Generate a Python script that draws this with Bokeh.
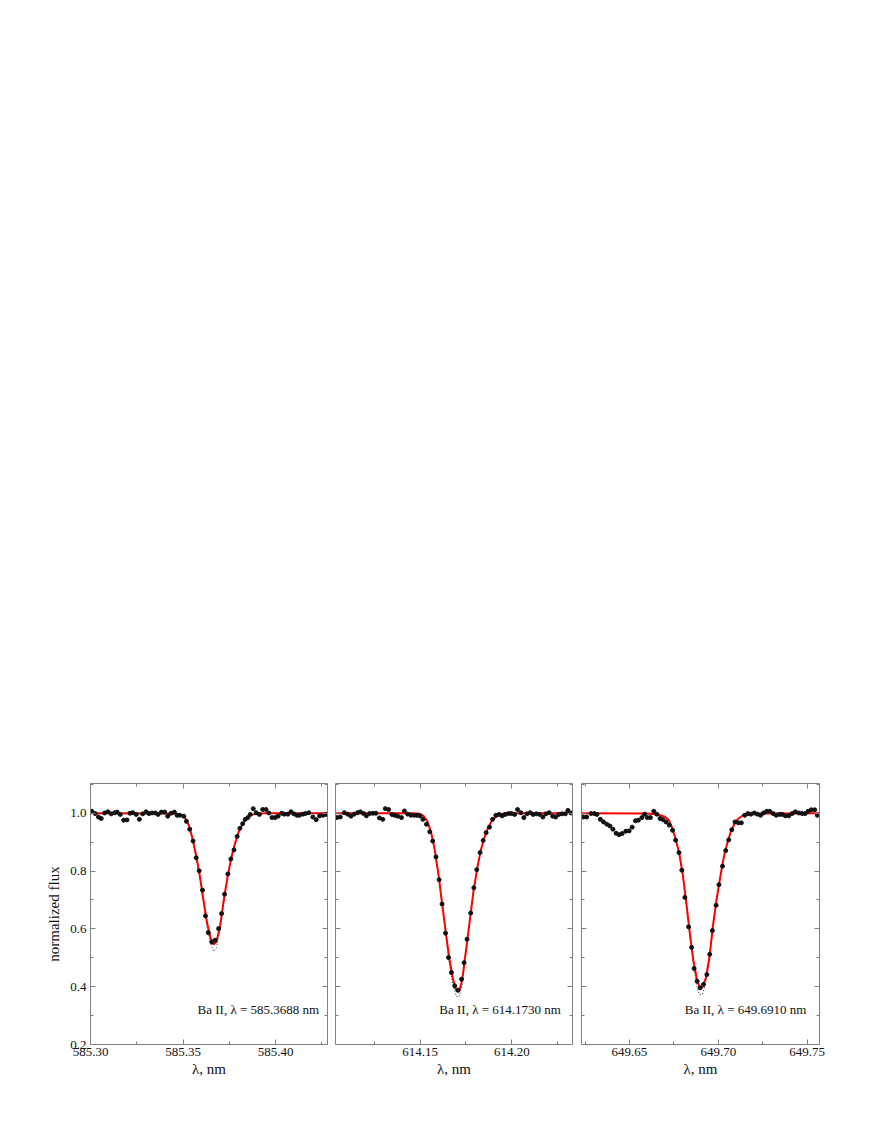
from bokeh.plotting import figure
from bokeh.layouts import row
from bokeh.models import (Range1d, FixedTicker, LinearAxis, NumeralTickFormatter,
                          CustomJSTickFormatter, Label)
from bokeh.embed import file_html
from bokeh.resources import INLINE

FONT = "Liberation Serif"
AXIS_GRAY = "#808080"

# ---------------- Data ----------------
# Panel 1: Ba II 585.3688 nm
obs1_x = [585.3007, 585.3025, 585.3043, 585.3058, 585.3076, 585.3094, 585.3112, 585.3130, 585.3144, 585.3161,
          585.3179, 585.3197, 585.3213, 585.3228, 585.3247, 585.3264, 585.3282, 585.3300, 585.3316, 585.3332,
          585.3350, 585.3365, 585.3383, 585.3401, 585.3417, 585.3435, 585.3453, 585.3468, 585.3482, 585.3504,
          585.3518, 585.3536, 585.3554, 585.3571, 585.3587, 585.3605, 585.3621, 585.3636, 585.3655, 585.3673,
          585.3692, 585.3708, 585.3724, 585.3742, 585.3758, 585.3775, 585.3792, 585.3807, 585.3822, 585.3836,
          585.3850, 585.3863, 585.3879, 585.3895, 585.3912, 585.3930, 585.3948, 585.3963, 585.3980, 585.3997,
          585.4013, 585.4033, 585.4047, 585.4066, 585.4083, 585.4098, 585.4114, 585.4128, 585.4147, 585.4161,
          585.4179, 585.4201, 585.4219, 585.4237, 585.4255, 585.4273]
obs1_y = [1.007, 0.999, 0.987, 0.982, 1.001, 1.005, 0.998, 1.002, 1.004, 0.996,
          0.976, 0.977, 1.000, 1.002, 0.996, 0.979, 0.998, 1.005, 0.999, 1.001,
          1.001, 0.996, 1.004, 1.004, 0.990, 1.000, 1.004, 0.993, 0.993, 0.990,
          0.972, 0.945, 0.904, 0.846, 0.801, 0.734, 0.645, 0.587, 0.555, 0.561,
          0.601, 0.653, 0.720, 0.790, 0.842, 0.873, 0.920, 0.948, 0.964, 0.979,
          0.985, 0.996, 1.016, 1.002, 0.996, 1.013, 1.013, 1.001, 0.985, 0.985,
          0.990, 1.000, 0.997, 0.997, 1.005, 0.998, 0.993, 0.993, 0.997, 0.999,
          1.002, 0.987, 0.978, 0.991, 0.993, 0.996]
fit1_x = [585.300, 585.346, 585.349, 585.351, 585.353, 585.355, 585.357, 585.359, 585.361, 585.363,
          585.365, 585.3665, 585.368, 585.370, 585.372, 585.374, 585.376, 585.378, 585.380, 585.382,
          585.384, 585.386, 585.389, 585.395, 585.428]
fit1_red = [1.000, 0.999, 0.995, 0.985, 0.960, 0.915, 0.855, 0.785, 0.700, 0.620,
            0.565, 0.546, 0.555, 0.610, 0.700, 0.780, 0.845, 0.895, 0.935, 0.962,
            0.980, 0.992, 0.998, 1.000, 1.000]
fit1_dot = [1.000, 0.999, 0.995, 0.984, 0.958, 0.912, 0.850, 0.778, 0.690, 0.605,
            0.545, 0.522, 0.535, 0.596, 0.692, 0.776, 0.843, 0.894, 0.934, 0.962,
            0.980, 0.992, 0.998, 1.000, 1.000]

# Panel 2: Ba II 614.1730 nm
obs2_x = [614.1047, 614.1066, 614.1088, 614.1106, 614.1124, 614.1142, 614.1160, 614.1175, 614.1193, 614.1208,
          614.1226, 614.1244, 614.1260, 614.1279, 614.1297, 614.1311, 614.1329, 614.1347, 614.1362, 614.1378,
          614.1399, 614.1415, 614.1433, 614.1451, 614.1469, 614.1484, 614.1500, 614.1516, 614.1535, 614.1553,
          614.1569, 614.1587, 614.1604, 614.1620, 614.1639, 614.1655, 614.1671, 614.1689, 614.1707, 614.1726,
          614.1740, 614.1756, 614.1776, 614.1793, 614.1809, 614.1827, 614.1844, 614.1860, 614.1878, 614.1895,
          614.1913, 614.1931, 614.1947, 614.1964, 614.1982, 614.1998, 614.2015, 614.2031, 614.2049, 614.2065,
          614.2082, 614.2100, 614.2116, 614.2133, 614.2151, 614.2169, 614.2185, 614.2203, 614.2222, 614.2238,
          614.2255, 614.2273, 614.2291, 614.2305, 614.2322]
obs2_y = [0.985, 0.987, 1.002, 0.997, 0.990, 0.997, 1.002, 1.005, 0.999, 0.991,
          0.999, 1.000, 1.000, 0.984, 0.979, 1.016, 1.013, 0.996, 0.993, 0.990,
          0.985, 1.008, 0.997, 0.993, 0.993, 0.993, 0.991, 0.979, 0.962, 0.936,
          0.904, 0.849, 0.770, 0.686, 0.585, 0.501, 0.449, 0.403, 0.388, 0.426,
          0.483, 0.564, 0.655, 0.742, 0.805, 0.864, 0.906, 0.933, 0.952, 0.979,
          0.993, 0.996, 0.991, 0.996, 0.999, 0.999, 0.996, 1.013, 1.002, 0.985,
          0.998, 1.002, 0.996, 0.998, 0.996, 0.987, 0.998, 1.002, 0.990, 0.987,
          0.996, 0.998, 0.998, 1.010, 1.001]
fit2_x = [614.104, 614.145, 614.150, 614.152, 614.154, 614.156, 614.158, 614.160, 614.162, 614.164,
          614.166, 614.168, 614.1695, 614.1705, 614.1715, 614.173, 614.175, 614.177, 614.179, 614.181,
          614.183, 614.185, 614.187, 614.189, 614.191, 614.193, 614.196, 614.233]
fit2_red = [1.000, 1.000, 0.998, 0.990, 0.972, 0.935, 0.875, 0.790, 0.690, 0.590,
            0.495, 0.425, 0.392, 0.382, 0.388, 0.425, 0.525, 0.625, 0.725, 0.805,
            0.870, 0.915, 0.950, 0.972, 0.986, 0.995, 1.000, 1.000]
fit2_dot = [1.000, 1.000, 0.998, 0.990, 0.971, 0.933, 0.872, 0.785, 0.682, 0.578,
            0.478, 0.405, 0.372, 0.363, 0.370, 0.410, 0.515, 0.620, 0.722, 0.804,
            0.870, 0.916, 0.951, 0.973, 0.987, 0.995, 1.000, 1.000]

# Panel 3: Ba II 649.6910 nm
obs3_x = [649.6240, 649.6259, 649.6284, 649.6302, 649.6317, 649.6336, 649.6354, 649.6373, 649.6390, 649.6407,
          649.6425, 649.6442, 649.6459, 649.6480, 649.6498, 649.6515, 649.6534, 649.6550, 649.6570, 649.6586,
          649.6601, 649.6618, 649.6637, 649.6654, 649.6672, 649.6689, 649.6706, 649.6724, 649.6743, 649.6760,
          649.6779, 649.6795, 649.6812, 649.6833, 649.6850, 649.6864, 649.6881, 649.6898, 649.6917, 649.6936,
          649.6952, 649.6967, 649.6988, 649.7004, 649.7024, 649.7042, 649.7059, 649.7076, 649.7094, 649.7113,
          649.7130, 649.7149, 649.7167, 649.7184, 649.7203, 649.7220, 649.7238, 649.7255, 649.7273, 649.7290,
          649.7309, 649.7326, 649.7345, 649.7361, 649.7378, 649.7397, 649.7416, 649.7434, 649.7453, 649.7472,
          649.7489, 649.7506, 649.7524, 649.7543, 649.7558]
obs3_y = [0.987, 0.987, 0.999, 0.999, 0.996, 0.979, 0.970, 0.962, 0.956, 0.945,
          0.931, 0.926, 0.930, 0.938, 0.939, 0.952, 0.974, 0.976, 0.985, 0.997,
          0.985, 0.985, 1.007, 0.997, 0.982, 0.978, 0.970, 0.959, 0.941, 0.907,
          0.864, 0.803, 0.709, 0.607, 0.536, 0.463, 0.419, 0.396, 0.408, 0.442,
          0.512, 0.594, 0.682, 0.753, 0.817, 0.871, 0.908, 0.943, 0.970, 0.967,
          0.967, 0.993, 0.999, 0.997, 1.001, 0.997, 0.993, 1.001, 1.007, 1.007,
          0.999, 0.993, 0.996, 0.996, 0.991, 0.991, 0.999, 1.005, 1.001, 0.999,
          0.999, 1.007, 1.012, 1.012, 0.993]
fit3_x = [649.623, 649.660, 649.666, 649.670, 649.672, 649.674, 649.676, 649.678, 649.680, 649.682,
          649.684, 649.686, 649.688, 649.6895, 649.691, 649.693, 649.695, 649.697, 649.699, 649.701,
          649.703, 649.705, 649.707, 649.709, 649.711, 649.714, 649.720, 649.757]
fit3_red = [1.000, 0.999, 0.996, 0.988, 0.978, 0.950, 0.912, 0.862, 0.790, 0.690,
            0.585, 0.490, 0.425, 0.398, 0.398, 0.430, 0.500, 0.610, 0.700, 0.775,
            0.845, 0.895, 0.935, 0.962, 0.980, 0.993, 0.999, 1.000]
fit3_dot = [1.000, 0.999, 0.996, 0.988, 0.977, 0.948, 0.909, 0.857, 0.782, 0.680,
            0.572, 0.472, 0.400, 0.372, 0.374, 0.412, 0.488, 0.603, 0.696, 0.773,
            0.844, 0.895, 0.935, 0.962, 0.980, 0.993, 0.999, 1.000]

# Axis ranges, ticks and labels
x_ranges = [(585.300, 585.428), (614.104, 614.233), (649.623, 649.757)]
x_major = [[585.30, 585.35, 585.40], [614.15, 614.20], [649.65, 649.70, 649.75]]
x_minor = [[585.325, 585.375, 585.425], [614.125, 614.175, 614.225], [649.625, 649.675, 649.725]]
y_range = (0.2, 1.103)
y_major = [0.2, 0.4, 0.6, 0.8, 1.0]
y_minor = [0.3, 0.5, 0.7, 0.9, 1.1]
line_labels = ["Ba II, \u03bb = 585.3688 nm", "Ba II, \u03bb = 614.1730 nm", "Ba II, \u03bb = 649.6910 nm"]
label_x = [585.4235, 614.2267, 649.7496]
label_y = 0.32
x_title = "\u03bb, nm"
y_title = "normalized flux"

panels = [(obs1_x, obs1_y, fit1_x, fit1_red, fit1_dot),
          (obs2_x, obs2_y, fit2_x, fit2_red, fit2_dot),
          (obs3_x, obs3_y, fit3_x, fit3_red, fit3_dot)]

# layout geometry (pixels); page is rendered without body margin offset
FRAME_H = 261
TOP = 783
BOTTOM = 60
borders = [(90, 4, 237), (4, 4, 237), (5, 25, 238)]


def style_axis(ax, ticker, show_labels, fmt):
    ax.ticker = ticker
    ax.axis_line_color = AXIS_GRAY
    ax.axis_line_width = 1
    ax.major_tick_line_color = AXIS_GRAY
    ax.minor_tick_line_color = AXIS_GRAY
    ax.major_tick_in = 5
    ax.major_tick_out = 0
    ax.minor_tick_in = 3
    ax.minor_tick_out = 0
    ax.major_label_text_font = FONT
    ax.major_label_text_font_size = "13px"
    ax.major_label_text_color = "#111111"
    if show_labels:
        ax.formatter = NumeralTickFormatter(format=fmt)
    else:
        ax.formatter = CustomJSTickFormatter(code="return ''")
        ax.major_label_standoff = 0


figs = []
for i, (ox, oy, fx, fr, fd) in enumerate(panels):
    bl, br, fw = borders[i]
    p = figure(width=bl + fw + br, height=TOP + FRAME_H + BOTTOM,
               x_range=Range1d(*x_ranges[i]), y_range=Range1d(*y_range),
               output_backend="svg", toolbar_location=None,
               min_border_left=bl, min_border_right=br,
               min_border_top=TOP, min_border_bottom=BOTTOM)
    p.outline_line_color = None
    p.xgrid.visible = False
    p.ygrid.visible = False
    p.background_fill_color = "white"
    p.border_fill_color = "white"

    xt = FixedTicker(ticks=x_major[i], minor_ticks=x_minor[i])
    yt = FixedTicker(ticks=y_major, minor_ticks=y_minor)

    xa = p.xaxis[0]
    style_axis(xa, xt, True, "0.00")
    xa.major_label_standoff = 3
    xa.axis_label = x_title
    xa.axis_label_text_font = FONT
    xa.axis_label_text_font_size = "15px"
    xa.axis_label_text_font_style = "normal"
    xa.axis_label_text_color = "#111111"
    xa.axis_label_standoff = 2

    ya = p.yaxis[0]
    if i == 0:
        style_axis(ya, yt, True, "0.0")
        ya.major_label_standoff = 4
        ya.axis_label = y_title
        ya.axis_label_text_font = FONT
        ya.axis_label_text_font_size = "15px"
        ya.axis_label_text_font_style = "normal"
        ya.axis_label_text_color = "#111111"
        ya.axis_label_standoff = 5
    else:
        style_axis(ya, yt, False, None)

    top_ax = LinearAxis()
    style_axis(top_ax, FixedTicker(ticks=x_major[i], minor_ticks=x_minor[i]), False, None)
    p.add_layout(top_ax, "above")
    right_ax = LinearAxis()
    style_axis(right_ax, FixedTicker(ticks=y_major, minor_ticks=y_minor), False, None)
    p.add_layout(right_ax, "right")

    # model curves
    p.line(fx, fd, line_color="#222222", line_width=1, line_dash="1 2")
    p.line(fx, fr, line_color="#ff0000", line_width=2)
    # observed spectrum
    p.scatter(ox, oy, size=4, marker="circle", fill_color="#111111", line_color="#111111")

    p.add_layout(Label(x=label_x[i], y=label_y, text=line_labels[i],
                       text_align="right", text_baseline="middle",
                       text_font=FONT, text_font_size="13px", text_color="#111111"))
    figs.append(p)

layout = row(*figs)
open("out.html", "w").write(file_html(layout, INLINE))
